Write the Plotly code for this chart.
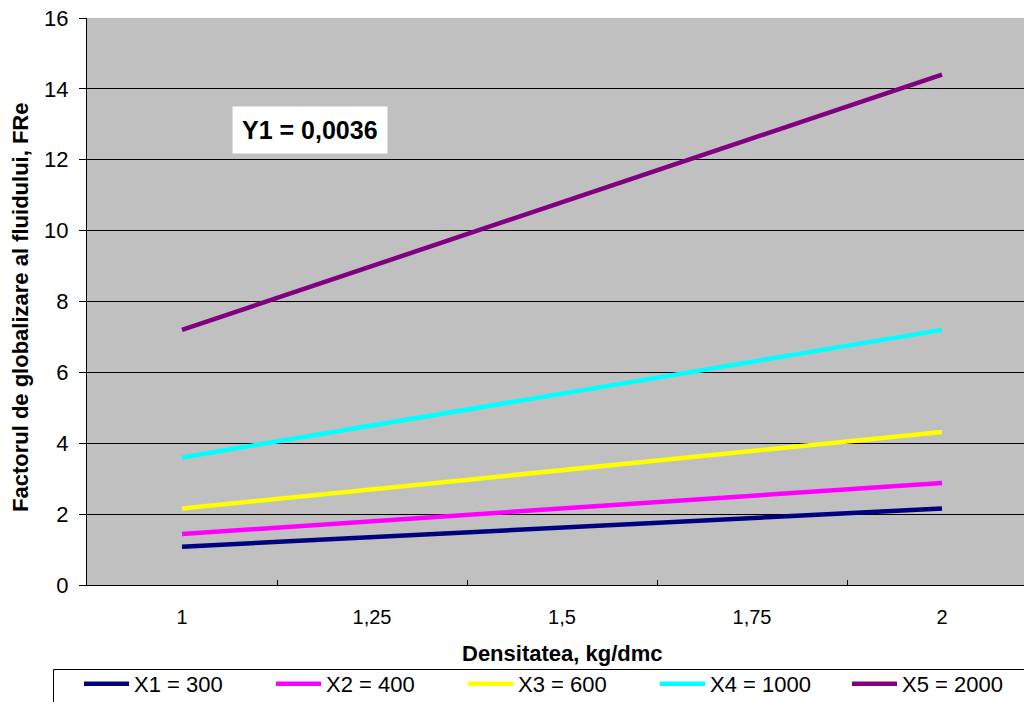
import plotly.graph_objects as go

density = [1.0, 1.25, 1.5, 1.75, 2.0]
density_labels = ["1", "1,25", "1,5", "1,75", "2"]

series_names = ["X1 = 300", "X2 = 400", "X3 = 600", "X4 = 1000", "X5 = 2000"]
x1 = [1.08, 1.35, 1.62, 1.89, 2.16]
x2 = [1.44, 1.80, 2.16, 2.52, 2.88]
x3 = [2.16, 2.70, 3.24, 3.78, 4.32]
x4 = [3.60, 4.50, 5.40, 6.30, 7.20]
x5 = [7.20, 9.00, 10.80, 12.60, 14.40]
series_values = [x1, x2, x3, x4, x5]
colors = ["#000080", "#FF00FF", "#FFFF00", "#00FFFF", "#800080"]

y_ticks = [0, 2, 4, 6, 8, 10, 12, 14, 16]

FONT = "Liberation Sans, Arial, sans-serif"

fig = go.Figure()
for name, vals, c in zip(series_names, series_values, colors):
    fig.add_trace(go.Scatter(x=density, y=vals, name=name, mode="lines",
                             line=dict(color=c, width=4.5)))

fig.update_layout(
    width=1024, height=702,
    margin=dict(l=87, r=0, t=18, b=117, autoexpand=False),
    paper_bgcolor="white",
    plot_bgcolor="#C0C0C0",
    font=dict(family=FONT, color="black", size=20),
    showlegend=True,
    legend=dict(orientation="h", x=(79 - 87) / 937, xanchor="left",
                y=(585 - 663) / 567, yanchor="top",
                borderwidth=0, bgcolor="rgba(0,0,0,0)",
                font=dict(size=22, family=FONT),
                itemwidth=45,
                entrywidth=132, entrywidthmode="pixels",
                traceorder="normal"),
    xaxis=dict(range=[0.875, 0.875 + 937/760], tickmode="array",
               tickvals=density, ticktext=density_labels, ticks="",
               showgrid=False, zeroline=False, showline=True,
               linecolor="black", linewidth=1,
               tickfont=dict(size=20, family=FONT),
               ticklabelstandoff=14,
               minor=dict(tickmode="array",
                          tickvals=[1.125, 1.375, 1.625, 1.875, 2.125],
                          ticks="inside", ticklen=5, tickcolor="black",
                          tickwidth=1, showgrid=False)),
    yaxis=dict(range=[0, 16], tickmode="array", tickvals=y_ticks,
               ticks="outside", ticklen=7, tickcolor="black", tickwidth=1,
               showgrid=True, gridcolor="black", gridwidth=1,
               zeroline=False, showline=True, linecolor="black", linewidth=1,
               tickfont=dict(size=22, family=FONT), ticklabelstandoff=6),
)

# legend frame (extends past the right/bottom edges as in the reference)
fig.add_shape(type="rect", xref="paper", yref="paper",
              x0=(53.5 - 87) / 937, x1=1.02,
              y0=(585 - 669.5) / 567, y1=(585 - 720) / 567,
              line=dict(color="black", width=1), fillcolor="white",
              layer="below")

fig.add_annotation(x=1.5, xref="x", y=(585 - 653) / 567, yref="paper",
                   text="<b>Densitatea, kg/dmc</b>", showarrow=False,
                   font=dict(size=22, family=FONT), yanchor="middle",
                   xanchor="center")
fig.add_annotation(x=(20 - 87) / 937, xref="paper", y=(585 - 307) / 567, yref="paper",
                   text="<b>Factorul de globalizare al fluidului, FRe</b>",
                   textangle=-90, showarrow=False, xanchor="center",
                   yanchor="middle", font=dict(size=22, family=FONT))
fig.add_annotation(x=0.875 + (309.5 - 87) / 760, xref="x", y=12.83, yref="y",
                   text="<b>Y1 = 0,0036</b>", showarrow=False,
                   bgcolor="white", borderpad=9, xanchor="center",
                   font=dict(size=25, family=FONT))

fig.write_html("out.html")
